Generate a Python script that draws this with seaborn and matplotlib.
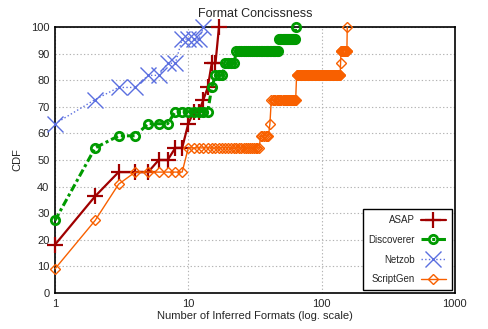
import numpy as np
import pandas as pd
import seaborn as sns
import matplotlib
matplotlib.use("Agg")
import matplotlib.pyplot as plt
from matplotlib.ticker import LogLocator, NullFormatter

# number of inferred formats per protocol/message type (22 per tool)
asap_counts = [1]*4 + [2]*4 + [3]*2 + [6] + [8] + [10]*2 + [11] + [13] + [14] + [15]*2 + [17]*3
discoverer_counts = [1]*6 + [2]*6 + [3] + [5] + [8] + [15]*2 + [16] + [19] + [23] + [48] + [64]
netzob_counts = [1]*14 + [2]*2 + [3] + [5] + [7] + [9]*2 + [13]
scriptgen_counts = [1]*2 + [2]*4 + [3]*3 + [4] + [10]*2 + [35] + [41] + [42]*2 + [65]*2 + [139] + [140] + [156]*2

tools = ["ASAP", "Discoverer", "Netzob", "ScriptGen"]
counts = [asap_counts, discoverer_counts, netzob_counts, scriptgen_counts]


def cdf_table(name, c):
    c = np.asarray(c)
    xs = np.arange(1, c.max() + 1)
    ys = [(c <= x).mean() * 100 for x in xs]
    return pd.DataFrame({"tool": name, "formats": xs, "cdf": ys})


df = pd.concat([cdf_table(n, c) for n, c in zip(tools, counts)], ignore_index=True)

sns.set_style("white")
plt.rcParams["font.family"] = ["Liberation Sans", "DejaVu Sans"]

fig = plt.figure(figsize=(4.89, 3.29), dpi=100)
ax = fig.add_axes([0.1125, 0.1094, 0.8175, 0.8086])

styles = {
    "ASAP": dict(color="#a00000", markeredgecolor="#a00000", marker="+", markersize=11,
                 markeredgewidth=1.6, lw=1.6, linestyle="-"),
    "Discoverer": dict(color="#009a00", markeredgecolor="#009a00", marker="o", markersize=6,
                       markeredgewidth=2.0, markerfacecolor="none",
                       lw=2.2, linestyle=(0, (2.5, 1, 1, 1))),
    "Netzob": dict(color="#5b6fe0", markeredgecolor="#5b6fe0", marker="x", markersize=11,
                   markeredgewidth=1.0, lw=1.0, linestyle=":"),
    "ScriptGen": dict(color="#f86000", markeredgecolor="#f86000", marker="D", markersize=5,
                      markeredgewidth=1.0, markerfacecolor="none", lw=1.0, linestyle="-"),
}

for t in tools:
    sub = df[df["tool"] == t]
    sns.lineplot(data=sub, x="formats", y="cdf", ax=ax, label=t, clip_on=False, zorder=3,
                 **styles[t])

ax.set_xscale("log")
ax.set_xlim(1, 1000)
ax.set_ylim(0, 100)
ax.set_xticks([1, 10, 100, 1000])
ax.set_xticklabels(["1", "10", "100", "1000"])
ax.xaxis.set_minor_locator(LogLocator(base=10, subs=np.arange(2, 10)))
ax.xaxis.set_minor_formatter(NullFormatter())
ax.set_yticks(np.arange(0, 101, 10))
ax.tick_params(axis="both", which="major", direction="in", length=5, width=1, labelsize=8, pad=4)
ax.tick_params(axis="x", which="minor", direction="in", length=3, width=0.8)
ax.set_axisbelow(True)
ax.grid(True, which="major", color="#b4b4b4", linestyle=(0, (1.2, 2)), lw=0.8)
for s in ax.spines.values():
    s.set_color("black")
    s.set_linewidth(1.2)

ax.set_title("Format Concissness", fontsize=9, pad=7)
ax.set_xlabel("Number of Inferred Formats (log. scale)", fontsize=8, labelpad=2)
ax.set_ylabel("CDF", fontsize=8, labelpad=6)

leg = ax.legend(loc="lower right", markerfirst=False, fontsize=7, frameon=True,
                fancybox=False, edgecolor="black", handlelength=2.6,
                labelspacing=1.0, borderpad=0.6, borderaxespad=0.3, handletextpad=0.6)
leg.get_frame().set_linewidth(1.0)
leg.get_frame().set_alpha(1)
leg.set_zorder(5)

fig.savefig("out.png", dpi=100)
